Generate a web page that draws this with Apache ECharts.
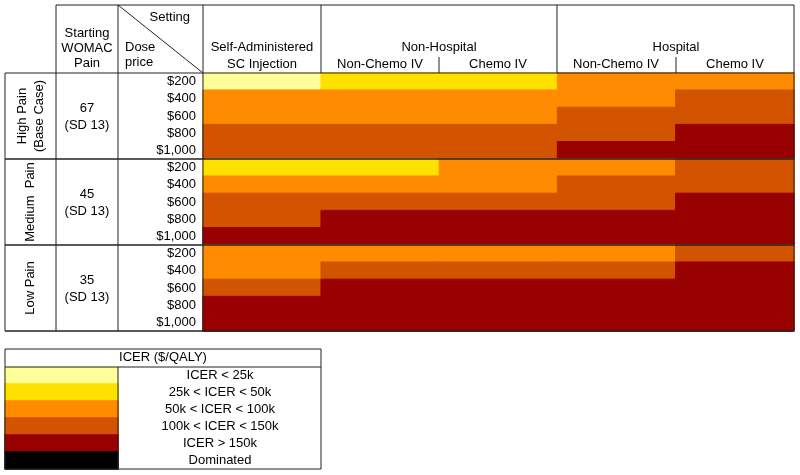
<!DOCTYPE html>
<html>
<head>
<meta charset="utf-8">
<script src="https://cdn.jsdelivr.net/npm/echarts@6/dist/echarts.min.js"></script>
<style>
  html, body { margin: 0; padding: 0; background: #fff; }
  #chart { width: 800px; height: 475px; }
</style>
</head>
<body>
<div id="chart"></div>
<script>
// settings (columns of the heat table)
const settings = ['Self-Administered SC Injection', 'Non-Hospital Non-Chemo IV', 'Non-Hospital Chemo IV', 'Hospital Non-Chemo IV', 'Hospital Chemo IV']
const painGroups = ['High Pain', 'Medium  Pain', 'Low Pain']
const womacPain = ['67', '45', '35']
const womacSD = ['(SD 13)', '(SD 13)', '(SD 13)']
const dosePrices = ['$200', '$400', '$600', '$800', '$1,000']
const icerLevels = ['ICER < 25k', '25k < ICER < 50k', '50k < ICER < 100k', '100k < ICER < 150k', 'ICER > 150k', 'Dominated']
const icerColors = ['#FFFF99', '#FFE100', '#FF8C00', '#D35400', '#990000', '#000000']

// ICER level index per dose price (rows) x setting (cols)
const highPain = [
    [0, 1, 1, 2, 2],
    [2, 2, 2, 2, 3],
    [2, 2, 2, 3, 3],
    [3, 3, 3, 3, 4],
    [3, 3, 3, 4, 4]
]
const mediumPain = [
    [1, 1, 2, 2, 3],
    [2, 2, 2, 3, 3],
    [3, 3, 3, 3, 4],
    [3, 4, 4, 4, 4],
    [4, 4, 4, 4, 4]
]
const lowPain = [
    [2, 2, 2, 2, 3],
    [2, 3, 3, 3, 4],
    [3, 4, 4, 4, 4],
    [4, 4, 4, 4, 4],
    [4, 4, 4, 4, 4]
]

const FONT = '"Liberation Sans", Arial, sans-serif'
const LINE = '#222'

// cell with same-colour border so neighbouring cells have no seams
function cell (x, y, level) {
    return {
        value: [x, y, level],
        itemStyle: { color: icerColors[level], borderColor: icerColors[level], borderWidth: 1 }
    }
}

let rowKeys = []
let heatData = []
const groups = [highPain, mediumPain, lowPain]
groups.forEach(function (g, gi) {
    dosePrices.forEach(function (p, pi) {
        rowKeys.push(gi + '|' + p)
        for (let c = 0; c < settings.length; c++) {
            heatData.push(cell(c, gi * dosePrices.length + pi, g[pi][c]))
        }
    })
})
let legendData = icerLevels.map(function (l, i) { return cell(0, i, i) })

// table layout (pixels)
const tbl = { left: 203, top: 73, right: 794, bottom: 331 }
const rowH = (tbl.bottom - tbl.top) / rowKeys.length
const groupH = rowH * dosePrices.length

function txt (x, y, s, align) {
    return {
        type: 'text', x: x, y: y, z: 50,
        style: { text: s, font: '13px ' + FONT, fill: '#000', align: align || 'center', verticalAlign: 'middle' }
    }
}
function ln (x1, y1, x2, y2, w) {
    return { type: 'line', z: 60, shape: { x1: x1, y1: y1, x2: x2, y2: y2 }, style: { stroke: LINE, lineWidth: w || 1 } }
}

let graphics = [
    // header texts
    txt(87, 33, 'Starting'), txt(87, 48, 'WOMAC'), txt(87, 63, 'Pain'),
    txt(190, 17, 'Setting', 'right'),
    txt(125, 47, 'Dose', 'left'), txt(125, 62, 'price', 'left'),
    txt(262, 47, 'Self-Administered'), txt(262, 64, 'SC Injection'),
    txt(439, 47, 'Non-Hospital'), txt(380, 64, 'Non-Chemo IV'), txt(498, 64, 'Chemo IV'),
    txt(676, 47, 'Hospital'), txt(616, 64, 'Non-Chemo IV'), txt(735, 64, 'Chemo IV'),
    // header lines
    ln(56, 5, 794, 5), ln(56, 5, 56, 73), ln(118, 5, 118, 331), ln(203, 5, 203, 331),
    ln(321, 5, 321, 73), ln(557, 5, 557, 73), ln(794, 5, 794, 331),
    ln(439, 57, 439, 73), ln(676, 57, 676, 73),
    ln(118, 5, 203, 73),
    ln(5, 73, 794, 73), ln(5, 73, 5, 331), ln(56, 73, 56, 331),
    // legend box
    ln(5, 349, 321, 349), ln(5, 367, 321, 367), ln(5, 469, 321, 469),
    ln(5, 349, 5, 469), ln(321, 349, 321, 469), ln(118, 367, 118, 469),
    txt(163, 357, 'ICER ($/QALY)')
]
painGroups.forEach(function (name, gi) {
    const y0 = tbl.top + gi * groupH
    const yc = y0 + groupH / 2
    if (gi === 0) {
        graphics.push(Object.assign(txt(22, yc, name), { rotation: Math.PI / 2 }))
        graphics.push(Object.assign(txt(39, yc, '(Base Case)'), { rotation: Math.PI / 2 }))
    } else {
        graphics.push(Object.assign(txt(30, yc, name), { rotation: Math.PI / 2 }))
    }
    graphics.push(txt(87, yc - 8, womacPain[gi]))
    graphics.push(txt(87, yc + 9, womacSD[gi]))
    graphics.push(ln(5, y0 + groupH, 794, y0 + groupH, 1.3))
})

const chart = echarts.init(document.getElementById('chart'))
chart.setOption({
    animation: false,
    backgroundColor: '#fff',
    textStyle: { fontFamily: FONT },
    grid: [
        { left: tbl.left, top: tbl.top, width: tbl.right - tbl.left, height: tbl.bottom - tbl.top, containLabel: false },
        { left: 5, top: 367, width: 113, height: 102, containLabel: false }
    ],
    xAxis: [
        { type: 'category', gridIndex: 0, data: settings, show: false },
        { type: 'category', gridIndex: 1, data: ['swatch'], show: false }
    ],
    yAxis: [
        {
            type: 'category', gridIndex: 0, data: rowKeys, inverse: true,
            axisLine: { show: false }, axisTick: { show: false }, splitLine: { show: false },
            axisLabel: {
                interval: 0, margin: 7, fontSize: 13, color: '#000', fontFamily: FONT,
                formatter: function (v) { return v.split('|')[1] }
            }
        },
        {
            type: 'category', gridIndex: 1, data: icerLevels, inverse: true, position: 'right',
            axisLine: { show: false }, axisTick: { show: false }, splitLine: { show: false },
            axisLabel: { interval: 0, margin: 102, align: 'center', fontSize: 13, color: '#000', fontFamily: FONT }
        }
    ],
    series: [
        {
            type: 'heatmap', xAxisIndex: 0, yAxisIndex: 0, data: heatData,
            emphasis: { disabled: true }
        },
        {
            type: 'heatmap', xAxisIndex: 1, yAxisIndex: 1, data: legendData,
            emphasis: { disabled: true }
        }
    ],
    graphic: graphics
})
</script>
</body>
</html>
